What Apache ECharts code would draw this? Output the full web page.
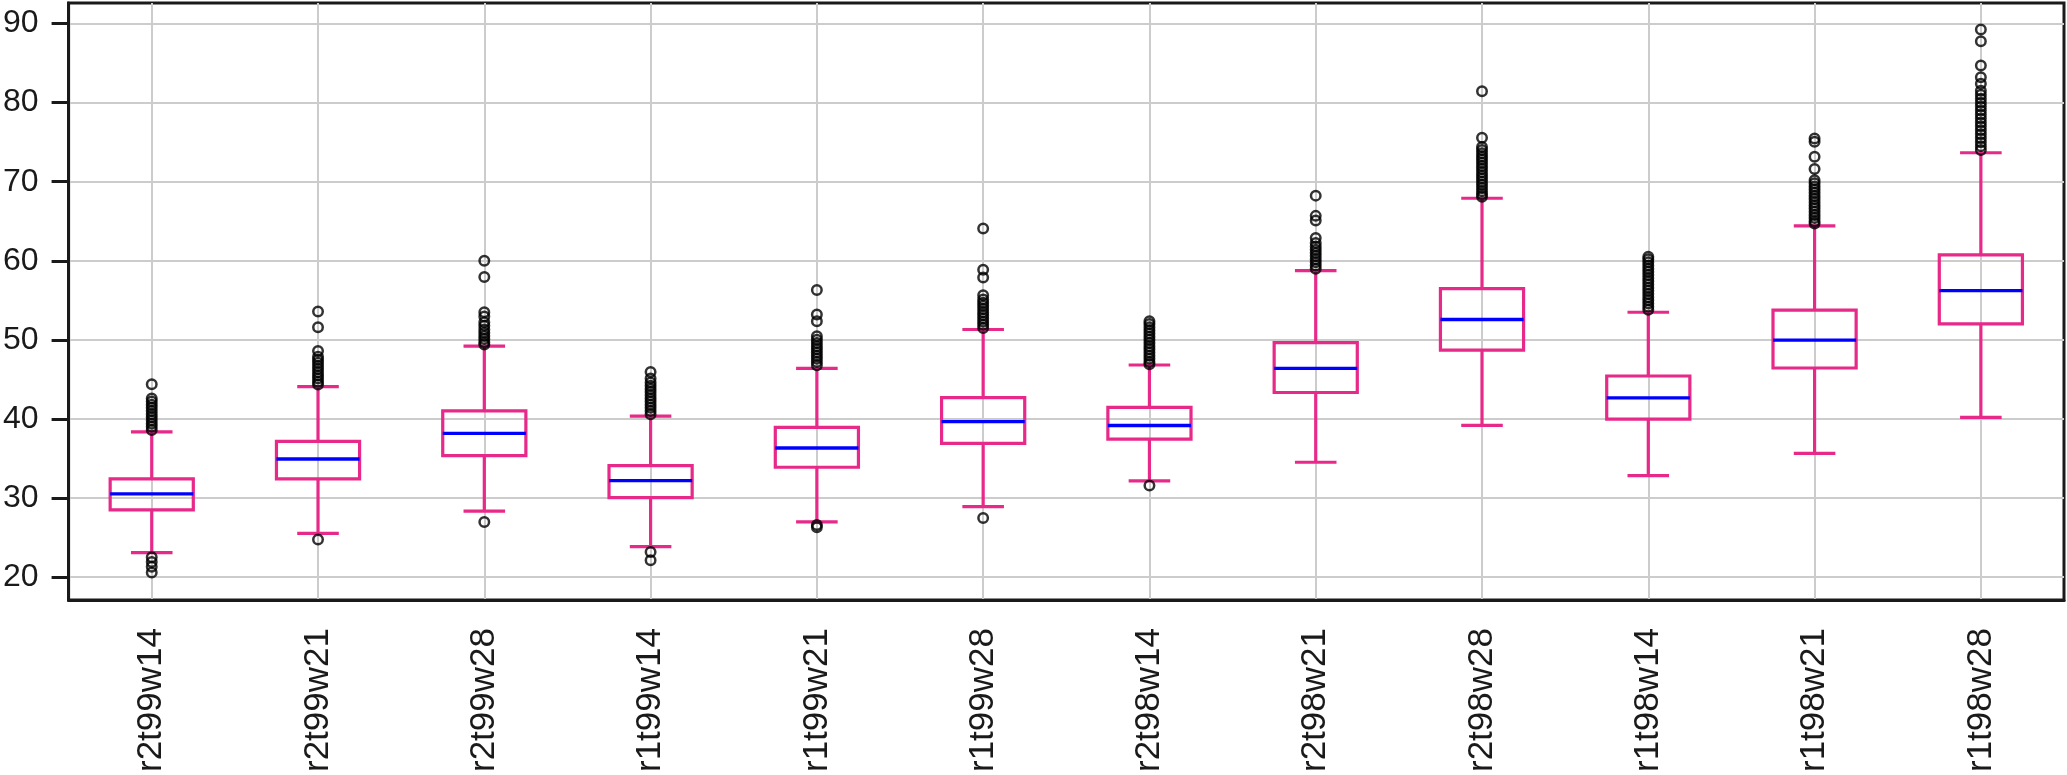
<!DOCTYPE html>
<html>
<head>
<meta charset="utf-8">
<script src="https://cdn.jsdelivr.net/npm/echarts@6/dist/echarts.min.js"></script>
<style>
html,body{margin:0;padding:0;background:#fff;}
#chart{width:2067px;height:775px;}
</style>
</head>
<body>
<div id="chart"></div>
<script>
// Categories
var categories = ['r2t99w14','r2t99w21','r2t99w28','r1t99w14','r1t99w21','r1t99w28',
                  'r2t98w14','r2t98w21','r2t98w28','r1t98w14','r1t98w21','r1t98w28'];
// Box statistics: [lower whisker, Q1, median, Q3, upper whisker]
var whiskerLow  = [23.09, 25.52, 28.34, 23.84, 26.99, 28.92, 32.16, 34.52, 39.18, 32.83, 35.65, 40.19];
var quartile1   = [28.50, 32.41, 35.35, 30.06, 33.89, 36.91, 37.45, 43.34, 48.71, 39.97, 46.44, 52.03];
var medians     = [30.52, 34.93, 38.17, 32.20, 36.32, 39.66, 39.17, 46.40, 52.57, 42.66, 49.97, 56.23];
var quartile3   = [32.41, 37.16, 41.02, 34.09, 38.93, 42.70, 41.45, 49.64, 56.48, 45.43, 53.75, 60.76];
var whiskerHigh = [38.37, 44.09, 49.21, 40.35, 46.40, 51.31, 46.82, 58.75, 67.91, 53.49, 64.42, 73.66];
// Outliers per category
var outliers = [
  [44.38, 42.58, 42.2, 41.8, 41.4, 41.0, 40.6, 40.2, 39.8, 39.4, 39.0, 38.6, 22.5, 21.9, 21.3, 20.57],
  [53.58, 51.6, 48.58, 47.87, 47.5, 47.1, 46.7, 46.3, 45.9, 45.5, 45.1, 44.7, 44.35, 24.76],
  [60.01, 57.95, 53.49, 52.95, 52.23, 51.8, 51.3, 50.9, 50.5, 50.1, 49.7, 49.4, 26.96],
  [45.93, 45.1, 44.6, 44.2, 43.8, 43.4, 43.0, 42.6, 42.2, 41.8, 41.4, 41.0, 40.6, 23.17, 22.12],
  [56.31, 53.2, 52.36, 50.47, 50.0, 49.6, 49.2, 48.8, 48.4, 48.0, 47.6, 47.2, 46.8, 26.6, 26.3],
  [64.08, 58.87, 57.9, 55.64, 55.1, 54.7, 54.3, 53.9, 53.5, 53.1, 52.7, 52.3, 51.9, 51.5, 27.46],
  [52.36, 52.0, 51.6, 51.2, 50.8, 50.4, 50.0, 49.6, 49.2, 48.8, 48.4, 48.0, 47.6, 47.2, 46.9, 31.57],
  [68.24, 65.68, 65.09, 62.87, 62.24, 61.8, 61.4, 61.0, 60.6, 60.2, 59.8, 59.4, 59.0],
  [81.43, 75.55, 74.4, 74.0, 73.6, 73.2, 72.8, 72.4, 72.0, 71.6, 71.2, 70.8, 70.4, 70.0, 69.6, 69.2, 68.8, 68.4, 68.1],
  [60.5, 60.2, 59.8, 59.4, 59.0, 58.6, 58.2, 57.8, 57.4, 57.0, 56.6, 56.2, 55.8, 55.4, 55.0, 54.6, 54.2, 53.8],
  [75.47, 75.04, 73.15, 71.6, 70.2, 69.8, 69.4, 69.0, 68.6, 68.2, 67.8, 67.4, 67.0, 66.6, 66.2, 65.8, 65.4, 65.0, 64.7],
  [89.24, 87.77, 84.7, 83.2, 82.4, 81.5, 81.0, 80.5, 80.0, 79.5, 79.0, 78.5, 78.0, 77.5, 77.0, 76.5, 76.0, 75.5, 75.0, 74.5, 74.0]
];
var yTicks = [20, 30, 40, 50, 60, 70, 80, 90];

var boxData = categories.map(function (c, i) {
  return [i, whiskerLow[i], quartile1[i], medians[i], quartile3[i], whiskerHigh[i]];
});
var outlierData = [];
outliers.forEach(function (arr, i) {
  arr.forEach(function (v) { outlierData.push([i, v]); });
});

var PINK = '#e7298a';
var BLUE = '#0000ff';

function renderBox(params, api) {
  var i = api.value(0);
  var band = api.size([1, 0])[0];
  var half = band * 0.25;
  var capHalf = band * 0.125;
  var pLow = api.coord([i, api.value(1)]);
  var pQ1 = api.coord([i, api.value(2)]);
  var pMed = api.coord([i, api.value(3)]);
  var pQ3 = api.coord([i, api.value(4)]);
  var pHigh = api.coord([i, api.value(5)]);
  var x = pQ1[0];
  var pinkStyle = {stroke: PINK, lineWidth: 3.2, fill: null, lineJoin: 'miter'};
  return {
    type: 'group',
    children: [
      {type: 'line', shape: {x1: x, y1: pQ1[1], x2: x, y2: pLow[1]}, style: pinkStyle},
      {type: 'line', shape: {x1: x, y1: pQ3[1], x2: x, y2: pHigh[1]}, style: pinkStyle},
      {type: 'line', shape: {x1: x - capHalf, y1: pLow[1], x2: x + capHalf, y2: pLow[1]}, style: pinkStyle},
      {type: 'line', shape: {x1: x - capHalf, y1: pHigh[1], x2: x + capHalf, y2: pHigh[1]}, style: pinkStyle},
      {type: 'polygon', shape: {points: [[x - half, pQ1[1]], [x + half, pQ1[1]], [x + half, pQ3[1]], [x - half, pQ3[1]]]},
        style: {stroke: PINK, lineWidth: 3.2, fill: null, lineJoin: 'miter'}},
      {type: 'line', shape: {x1: x - half, y1: pMed[1], x2: x + half, y2: pMed[1]}, style: {stroke: BLUE, lineWidth: 3.4}}
    ]
  };
}

var chart = echarts.init(document.getElementById('chart'), null, {renderer: 'canvas'});
chart.setOption({
  animation: false,
  backgroundColor: '#ffffff',
  grid: {
    left: 66, right: 3, top: 3, bottom: 173,
    show: true, borderColor: '#1a1a1a', borderWidth: 3, backgroundColor: 'transparent'
  },
  xAxis: {
    type: 'category',
    data: categories,
    boundaryGap: true,
    axisLine: {show: true, lineStyle: {color: '#1a1a1a', width: 3}},
    axisTick: {show: false, alignWithLabel: true},
    axisLabel: {
      rotate: 90, margin: 28, fontSize: 35, color: '#1a1a1a',
      fontFamily: 'Liberation Sans, Arial, sans-serif', interval: 0
    },
    splitLine: {show: true, alignWithLabel: true, interval: 0, lineStyle: {color: '#cccccc', width: 2}}
  },
  yAxis: {
    type: 'value',
    min: 17.1, max: 92.6,
    axisLine: {show: true, lineStyle: {color: '#1a1a1a', width: 3}},
    axisTick: {show: true, length: 17, inside: false, customValues: yTicks, lineStyle: {color: '#1a1a1a', width: 3}},
    axisLabel: {
      margin: 30, fontSize: 32, color: '#1a1a1a', customValues: yTicks,
      fontFamily: 'Liberation Sans, Arial, sans-serif'
    },
    splitLine: {show: true, lineStyle: {color: '#cccccc', width: 2}}
  },
  series: [
    {
      type: 'custom',
      renderItem: renderBox,
      data: boxData,
      encode: {x: 0, y: [1, 2, 3, 4, 5]},
      z: 3
    },
    {
      type: 'scatter',
      data: outlierData,
      symbol: 'circle',
      symbolSize: 9.5,
      itemStyle: {color: 'rgba(255,255,255,0)', borderColor: '#000000', borderWidth: 2.5},
      z: 4
    }
  ]
});
</script>
</body>
</html>
